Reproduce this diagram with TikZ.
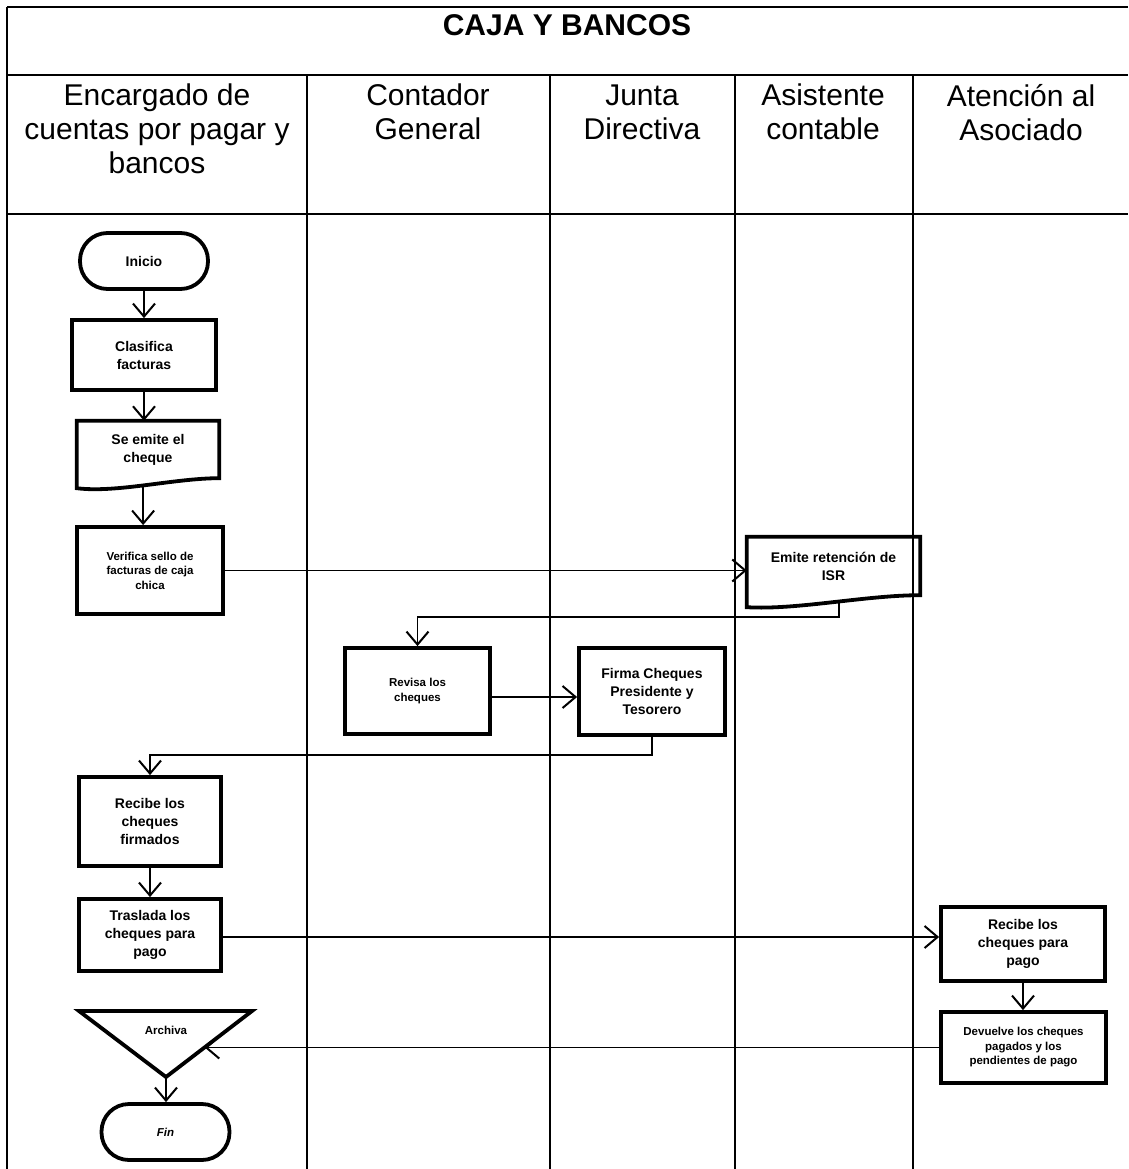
\documentclass[tikz,border=0pt]{standalone}
\usepackage{fontspec}
\setmainfont{Liberation Sans}
\usetikzlibrary{arrows.meta,calc}

\begin{document}
\begin{tikzpicture}[x=1pt,y=-1pt,
  frame/.style={line width=1.6pt},
  lane/.style={line width=1.3pt},
  boxline/.style={line width=3.8pt},
  proc/.style={draw,boxline,inner sep=2pt,align=center,
    font=\bfseries\fontsize{14}{18}\selectfont},
  small/.style={font=\bfseries\fontsize{11.5}{14.5}\selectfont},
  term/.style={proc,rounded corners=27.5pt,minimum width=128pt,minimum height=56pt},
  doc/.style={inner sep=2pt,align=center,font=\bfseries\fontsize{14}{18}\selectfont},
  flow/.style={line width=1.6pt,-{Straight Barb[length=13pt,width=22pt,line width=2pt]}},
  head/.style={anchor=north,align=center,inner sep=0pt,font=\fontsize{30}{34}\selectfont}]

\useasboundingbox (0,0) rectangle (1128,1169);

% swimlane table
\draw[frame] (7,7) -- (1128,7);
\draw[frame] (7,75) -- (1128,75);
\draw[frame] (7,214) -- (1128,214);
\draw[frame] (7,7) -- (7,1169);
\foreach \lx in {307,550,735,913}
  \draw[lane] (\lx,75) -- (\lx,1169);

\node[anchor=base,inner sep=0pt,font=\bfseries\fontsize{30}{34}\selectfont] (title) at (567,36) {CAJA Y BANCOS};

\node[head] (h1) at (157,84) {Encargado de\\cuentas por pagar y\\bancos};
\node[head] (h2) at (428,84) {Contador\\General};
\node[head] (h3) at (642,85) {Junta\\Directiva};
\node[head] (h4) at (823,84) {Asistente\\contable};
\node[head] (h5) at (1021,84) {Atención al\\Asociado};

% process steps
\node[term] (inicio) at (144,261) {Inicio};
\node[proc,minimum width=144pt,minimum height=70pt] (clasif) at (144,355) {Clasifica\\facturas};

\node[doc,minimum width=142pt,minimum height=57pt] (cheque) at (148,449.5) {Se emite el\\cheque};
\draw[boxline] (cheque.south west) -- (cheque.north west) -- (cheque.north east) -- (cheque.south east)
  .. controls +(-45,0) and +(40,5) .. coordinate[pos=0.52] (cheque-w) ($(cheque.south west)+(0,10)$) -- cycle;

\node[proc,small,minimum width=146pt,minimum height=87pt] (verif) at (150,570.5) {Verifica sello de\\facturas de caja\\chica};

\node[doc,minimum width=173pt,minimum height=58pt] (isr) at (833.5,566) {Emite retención de\\ISR};
\draw[boxline] (isr.south west) -- (isr.north west) -- (isr.north east) -- (isr.south east)
  .. controls +(-55,0) and +(50,3) .. coordinate[pos=0.46] (isr-w) ($(isr.south west)+(0,12)$) -- cycle;

\node[proc,small,minimum width=145pt,minimum height=86pt] (revisa) at (417.5,691) {Revisa los\\cheques};
\node[proc,minimum width=146pt,minimum height=87pt] (firma) at (652,691.5) {Firma Cheques\\Presidente y\\Tesorero};

\node[proc,minimum width=142pt,minimum height=89pt] (recfirm) at (150,821.5) {Recibe los\\cheques\\firmados};
\node[proc,minimum width=142pt,minimum height=72pt] (traslada) at (150,935) {Traslada los\\cheques para\\pago};

\node[proc,minimum width=164pt,minimum height=74pt] (recpago) at (1023,944) {Recibe los\\cheques para\\pago};
\node[proc,small,minimum width=165pt,minimum height=71pt] (devuelve) at (1023.5,1047.5) {Devuelve los cheques\\pagados y los\\pendientes de pago};

% merge (archive) triangle
\coordinate (arcL) at (79,1011);
\coordinate (arcR) at (252,1011);
\coordinate (arcB) at (166,1077);
\draw[boxline] (arcL) -- (arcR) -- (arcB) -- cycle;
\node[inner sep=0pt,small] (archiva) at (166,1030) {Archiva};
\coordinate (arcE) at ($(arcR)!0.55!(arcB)$);

\node[term,font=\bfseries\itshape\fontsize{11.5}{14}\selectfont] (fin) at (165.5,1132) {Fin};

% connector bend and exit points
\coordinate (revE) at ($(revisa.east)+(0,6)$);
\coordinate (trasE) at ($(traslada.east)+(0,2)$);
\coordinate (isrBend) at ($(revisa.north)+(0,-29)$);
\coordinate (firmaBend) at ($(recfirm.north)+(0,-20)$);

% connectors
\draw[flow] (inicio.south) -- (inicio.south |- clasif.north);
\draw[flow] (clasif.south) -- (clasif.south |- cheque.north);
\draw[flow] (cheque-w) -- (cheque-w |- verif.north);
\draw[flow] (verif.east) -- (verif.east -| isr.west);
\draw[flow] (isr-w) |- (isrBend) -- (revisa.north);
\draw[flow] (revE) -- (revE -| firma.west);
\draw[flow] (firma.south) |- (firmaBend) -- (recfirm.north);
\draw[flow] (recfirm.south) -- (recfirm.south |- traslada.north);
\draw[flow] (trasE) -- (trasE -| recpago.west);
\draw[flow] (recpago.south) -- (recpago.south |- devuelve.north);
\draw[flow] (devuelve.west) -- (devuelve.west -| arcE);
\draw[flow] (arcB) -- (arcB |- fin.north);

\end{tikzpicture}
\end{document}
